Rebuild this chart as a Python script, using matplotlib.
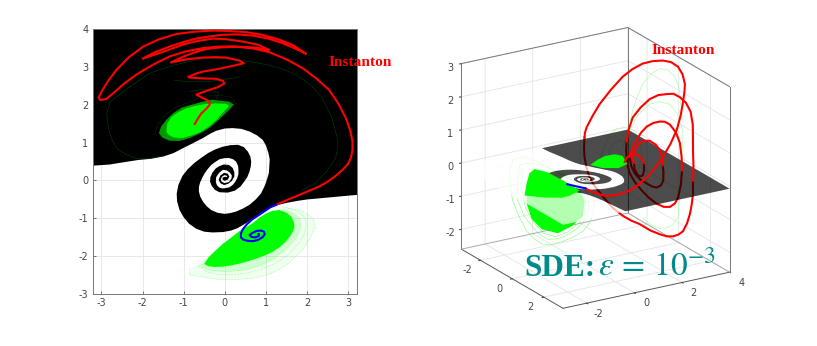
"""
plot.py: basin boundary, SDE clouds and instanton, in 2D and in 3D
"""

import matplotlib
matplotlib.use("Agg")
import matplotlib.pyplot as plt
from mpl_toolkits.mplot3d.art3d import Poly3DCollection

plt.rcParams['grid.color'] = '#e4e4e4'
plt.rcParams['grid.linewidth'] = 0.6
plt.rcParams['mathtext.fontset'] = 'stix'
plt.rcParams['axes.unicode_minus'] = False

GRAY = '#444444'
TEAL = '#008b8b'

# basin boundary, from the right edge into the centre of the spiral
edge_a = [(3.21, -.38), (2.9, -.41), (2.6, -.44), (2.3, -.47), (2.0, -.5), (1.75, -.54), (1.5, -.59), (1.24, -.66),
          (1.1, -.72), (.95, -.81), (.76, -.95), (.6, -1.07), (.45, -1.17), (.3, -1.26), (.15, -1.32), (-.05, -1.36),
          (-.3, -1.37), (-.5, -1.35), (-.7, -1.27), (-.87, -1.14), (-1.0, -.97), (-1.1, -.78), (-1.16, -.55),
          (-1.17, -.35), (-1.13, -.12), (-1.03, .12), (-.9, .3), (-.73, .47), (-.57, .6), (-.41, .72), (-.23, .82),
          (-.05, .89), (.13, .93), (.32, .94), (.46, .88), (.56, .76), (.62, .63), (.64, .5), (.63, .37), (.6, .24),
          (.55, .1), (.47, -.03), (.38, -.16), (.24, -.27), (.07, -.32), (-.13, -.31), (-.24, -.25), (-.32, -.14),
          (-.36, -.03), (-.35, .09), (-.3, .21), (-.22, .32), (-.13, .38), (-.03, .42), (.1, .41), (.19, .33),
          (.23, .22), (.23, .1), (.17, -.01), (.08, -.09), (-.02, -.12), (-.11, -.07), (-.15, .02), (-.11, .13),
          (-.02, .2), (.07, .18), (.11, .1), (.07, .02), (-.01, -.01), (-.06, .03), (-.05, .08), (0, .095)]
# basin boundary, from the left edge into the centre of the spiral
edge_b = [(-3.21, .39), (-2.8, .42), (-2.4, .49), (-2.1, .54), (-1.8, .57), (-1.5, .63), (-1.25, .72), (-1.02, .85),
          (-.78, .98), (-.53, 1.12), (-.36, 1.23), (-.21, 1.31), (0, 1.37), (.19, 1.38), (.4, 1.36), (.6, 1.29),
          (.78, 1.19), (.92, 1.07), (1.0, .92), (1.06, .72), (1.09, .55), (1.08, .37), (1.07, .2), (1.03, .05),
          (.97, -.14), (.88, -.34), (.75, -.5), (.6, -.64), (.44, -.74), (.27, -.82), (.13, -.86), (-.01, -.88),
          (-.18, -.85), (-.33, -.78), (-.44, -.68), (-.53, -.56), (-.6, -.42), (-.63, -.29), (-.63, -.17), (-.6, -.05),
          (-.55, .07), (-.49, .19), (-.41, .31), (-.33, .41), (-.23, .49), (-.13, .56), (0, .59), (.11, .59), (.2, .56),
          (.27, .5), (.32, .39), (.33, .28), (.33, .17), (.3, .06), (.25, -.04), (.19, -.12), (.11, -.18), (.03, -.2),
          (-.06, -.21), (-.13, -.19), (-.19, -.13), (-.22, -.04), (-.21, .09), (-.14, .2), (-.05, .28), (.04, .27),
          (.12, .21), (.17, .13), (.16, .05), (.1, -.04), (-.01, -.07), (-.08, -.03), (-.1, .03), (-.07, .1),
          (-.01, .14), (.04, .13), (.06, .09)]

# instanton in the (x, y) plane
red_path = [(-.73, 1.49), (-.66, 1.62), (-.57, 1.77), (-.46, 1.88), (-.37, 1.99), (-.37, 2.07), (-.45, 2.13),
            (-.57, 2.19), (-.69, 2.26), (-.58, 2.31), (-.37, 2.39), (-.17, 2.46), (-.02, 2.55), (-.04, 2.62),
            (-.21, 2.68), (-.55, 2.69), (-.85, 2.71), (-.89, 2.73), (-.72, 2.81), (-.53, 2.87), (-.2, 2.93), (.11, 3.0),
            (.35, 3.06), (.46, 3.09), (.35, 3.16), (.03, 3.24), (-.25, 3.25), (-.53, 3.24), (-.95, 3.19), (-1.31, 3.11),
            (-1.0, 3.27), (-.61, 3.42), (-.3, 3.49), (.1, 3.52), (.45, 3.52), (.76, 3.5), (1.08, 3.44), (.8, 3.58),
            (.44, 3.66), (.05, 3.72), (-.29, 3.74), (-.65, 3.68), (-1.02, 3.58), (-1.5, 3.39), (-2.0, 3.21),
            (-1.7, 3.38), (-1.34, 3.53), (-1.0, 3.65), (-.69, 3.74), (-.35, 3.8), (-.05, 3.84), (.3, 3.85), (.68, 3.82),
            (1.05, 3.74), (1.4, 3.62), (1.7, 3.48), (1.97, 3.34), (1.65, 3.57), (1.3, 3.72), (.9, 3.84), (.52, 3.91),
            (.1, 3.94), (-.29, 3.95), (-.75, 3.92), (-1.18, 3.86), (-1.6, 3.72), (-1.98, 3.53), (-2.33, 3.25),
            (-2.63, 2.92), (-2.85, 2.6), (-3.0, 2.33), (-3.07, 2.18), (-3.02, 2.12), (-2.88, 2.15), (-2.71, 2.3),
            (-2.45, 2.55), (-2.15, 2.79), (-1.75, 3.05), (-1.34, 3.27), (-.95, 3.4), (-.53, 3.49), (-.13, 3.53),
            (.27, 3.53), (.68, 3.48), (1.08, 3.38), (1.5, 3.19), (1.89, 2.96), (2.22, 2.69), (2.53, 2.39), (2.76, 2.02),
            (2.94, 1.64), (3.05, 1.3), (3.1, 1.03), (3.1, .8), (3.06, .59), (2.98, .42), (2.85, .27), (2.69, .12),
            (2.5, -.03), (2.29, -.16), (2.05, -.27), (1.81, -.38), (1.5, -.52), (1.24, -.645)]
blue_path = [(1.24, -.645), (1.1, -.71), (.95, -.82), (.8, -.93), (.66, -1.03), (.54, -1.15), (.44, -1.28), (.39, -1.4),
             (.39, -1.5), (.45, -1.56), (.55, -1.59), (.68, -1.6), (.8, -1.57), (.91, -1.5), (.97, -1.42), (.95, -1.35),
             (.88, -1.32), (.77, -1.33), (.67, -1.38), (.6, -1.44), (.65, -1.49), (.74, -1.5), (.83, -1.46), (.82, -1.41)]

# SDE clouds in the (x, y) plane
low_core = [(-.5, -2.2), (-.4, -2.03), (-.22, -1.84), (-.05, -1.67), (.16, -1.5), (.36, -1.33), (.52, -1.23), (.68, -1.12),
            (.84, -.98), (1.0, -.87), (1.16, -.8), (1.32, -.78), (1.48, -.84), (1.61, -.95), (1.68, -1.1), (1.69, -1.26),
            (1.6, -1.45), (1.48, -1.61), (1.33, -1.76), (1.16, -1.88), (.96, -1.98), (.76, -2.06), (.56, -2.13),
            (.36, -2.19), (.15, -2.24), (-.05, -2.27), (-.25, -2.28), (-.4, -2.26)]
low_ring_a = [(-.65, -2.26), (-.3, -2.38), (.1, -2.4), (.5, -2.36), (.85, -2.25), (1.2, -2.06), (1.5, -1.8), (1.75, -1.5),
              (1.85, -1.2), (1.82, -1.0), (1.65, -.85), (1.4, -.75)]
low_ring_b = [(-.57, -2.32), (-.4, -2.42), (-.21, -2.47), (.15, -2.48), (.52, -2.45), (.9, -2.33), (1.24, -2.18), (1.53, -1.96),
              (1.77, -1.7), (1.93, -1.42), (1.98, -1.17), (1.95, -1.0), (1.85, -.87), (1.68, -.77), (1.48, -.72)]
low_ring_c = [(-.85, -2.34), (-.85, -2.49), (-.55, -2.54), (-.21, -2.6), (.25, -2.61), (.68, -2.58), (1.02, -2.49),
              (1.32, -2.36), (1.62, -2.12), (1.89, -1.83), (2.07, -1.52), (2.19, -1.22), (2.17, -1.06), (2.09, -.95),
              (1.95, -.85), (1.81, -.78), (1.4, -.70)]
up_fringe = [(-1.6, 1.25), (-1.55, 1.42), (-1.42, 1.6), (-1.26, 1.77), (-1.05, 1.92), (-.8, 2.0), (-.53, 2.08), (-.3, 2.13),
             (-.1, 2.1), (.1, 2.08), (.22, 2.0), (.12, 1.88), (.0, 1.75), (-.18, 1.57), (-.38, 1.38), (-.6, 1.24),
             (-.85, 1.12), (-1.1, 1.04), (-1.35, 1.05), (-1.52, 1.13)]
up_core = [(-1.42, 1.28), (-1.4, 1.5), (-1.3, 1.67), (-1.13, 1.8), (-.94, 1.9), (-.7, 1.97), (-.45, 2.02), (-.2, 2.03),
           (.03, 2.02), (.1, 1.96), (-.04, 1.8), (-.18, 1.62), (-.38, 1.43), (-.57, 1.29), (-.8, 1.19), (-1.02, 1.12),
           (-1.24, 1.13), (-1.36, 1.2)]
up_ring = [(-1.7, 1.2), (-1.65, 1.45), (-1.45, 1.72), (-1.2, 1.92), (-.9, 2.05), (-.55, 2.2), (-.2, 2.25), (.15, 2.2), (.28, 2.02)]
faint_lines = [
    [(-2.79, 2.08), (-2.87, 1.75), (-2.83, 1.38), (-2.75, 1.1), (-2.63, .85), (-2.4, .68), (-2.15, .59), (-1.85, .58), (-1.5, .65)],
    [(-2.79, 2.08), (-2.4, 2.4), (-1.82, 2.83), (-1.2, 3.05), (-.53, 3.22), (.2, 3.2), (.84, 3.09), (1.3, 2.98), (1.73, 2.79),
     (2.1, 2.5), (2.37, 2.17), (2.6, 1.65), (2.73, 1.12), (2.74, .85), (2.69, .59), (2.48, .25), (2.21, -.07), (1.89, -.25)],
    [(-1.25, 2.65), (-.9, 2.6), (-.3, 2.62), (.35, 2.72)],
    [(-.85, 2.35), (-.5, 2.4), (-.15, 2.32), (-.2, 2.15)],
]

# instanton in 3D, x is taken as 1.5 along it; pieces in front of the plane and behind it
front_pieces = [
    [(-.92, .221), (-.62, .06), (-.32, -.057), (-.05, -.14), (.22, -.175), (.58, -.18), (.94, -.134), (1.3, -.02), (1.66, .152),
     (2.0, .38), (2.33, .658), (2.65, 1.0), (2.92, 1.393), (3.08, 1.79), (3.18, 2.181), (3.24, 2.47), (3.26, 2.72), (3.16, 3.03),
     (2.97, 3.288), (2.68, 3.47), (2.33, 3.572), (1.92, 3.62), (1.49, 3.613), (1.05, 3.51), (.65, 3.348), (.15, 3.03),
     (-.32, 2.673), (-.62, 2.36), (-.87, 2.055), (-.94, 1.9), (-.96, 1.761)],
    [(3.6, -.247), (3.62, .2), (3.6, .673), (3.6, 1.041), (3.59, 1.45), (3.5, 1.85), (3.3, 2.15), (3.05, 2.354), (2.78, 2.5),
     (2.5, 2.533), (2.15, 2.56), (1.78, 2.494), (1.4, 2.3), (1.07, 2.054), (.9, 1.72), (.81, 1.358)],
    [(3.14, .132), (3.12, .55), (3.05, .973), (2.88, 1.32), (2.63, 1.593), (2.42, 1.71), (2.21, 1.752), (1.93, 1.75), (1.66, 1.685),
     (1.42, 1.54), (1.24, 1.353), (1.05, 1.12), (.94, .878)],
    [(2.33, .413), (2.3, .66), (2.21, .893), (2.03, 1.08), (1.78, 1.236), (1.56, 1.27), (1.36, 1.24), (1.19, 1.1), (1.07, .919),
     (1.07, .78), (1.11, .667)],
    [(1.53, .601), (1.42, .77), (1.28, .886), (1.1, .94), (.94, .939), (.82, .87), (.73, .758)],
]
back_pieces = [
    [(-.96, 1.761), (-.98, 1.46), (-.96, 1.178), (-.88, .85), (-.75, .532), (-.55, .25), (-.32, .004), (-.05, -.28), (.22, -.543),
     (.65, -.85), (1.0, -1.05), (1.36, -1.213), (1.8, -1.47), (2.21, -1.653), (2.5, -1.76), (2.76, -1.802), (3.0, -1.78),
     (3.18, -1.714), (3.35, -1.5), (3.47, -1.24), (3.55, -.95), (3.6, -.646), (3.6, -.247)],
    [(.81, 1.358), (.79, 1.12), (.81, .898), (.85, .63), (.94, .387), (1.17, .07), (1.45, -.214), (1.75, -.48), (2.08, -.713),
     (2.37, -.85), (2.63, -.892), (2.84, -.82), (2.97, -.669), (3.09, -.3), (3.14, .132)],
    [(.94, .878), (1.0, .6), (1.15, .354), (1.38, .13), (1.66, -.032), (1.88, -.16), (2.08, -.222), (2.26, -.18), (2.35, -.047),
     (2.36, .18), (2.33, .413)],
    [(1.11, .667), (1.16, .45), (1.28, .273), (1.39, .22), (1.49, .239), (1.55, .4), (1.53, .601)],
]
blue_piece = [(-1.68, .464), (-1.3, .34), (-.92, .221)]
thin_loops = [
    [(.94, 1.952), (1.2, 2.55), (1.49, 3.0), (1.85, 3.25), (2.21, 3.347), (2.55, 3.25), (2.84, 3.001), (3.0, 2.7), (3.05, 2.354), (3.18, 1.66)],
    [(1.49, -1.049), (1.9, -1.35), (2.33, -1.52), (2.7, -1.47), (2.97, -1.282), (3.05, -.56), (3.14, .286), (3.18, 1.292), (3.0, 1.8),
     (2.63, 2.206), (2.2, 2.35), (1.78, 2.34), (1.3, 2.1), (.94, 1.706), (.6, 1.146)],
    [(-.32, .986), (-.1, 1.4), (.1, 1.686), (.4, 1.82), (.73, 1.801), (1.1, 1.65), (1.36, 1.333), (1.45, .95), (1.36, .566), (1.2, .25),
     (.94, .019), (.7, .1), (.52, .393)],
    [(.0, 1.0), (.2, 1.35), (.55, 1.45), (.9, 1.3), (1.05, .9), (.95, .5), (.7, .35)],
]

# SDE clouds in 3D, x is taken as .6 and -1
cloud_all = [(-2.46, .79), (-1.91, .611), (-1.27, .266), (-.56, -.154), (-.35, -.495), (-.43, -.941), (-.89, -1.175),
             (-1.49, -1.296), (-2.16, -1.067), (-2.58, -.693), (-2.79, -.2), (-2.79, .414), (-2.67, .7)]
cloud_top = [(-2.46, .79), (-1.91, .611), (-1.27, .266), (-.56, -.154), (-.98, -.242), (-1.32, -.249), (-2.03, -.136),
             (-2.88, .059), (-2.79, .414), (-2.67, .7)]
cloud_rings = [
    [(-3.38, 1.213), (-3.47, 1.03), (-3.51, .834), (-3.47, .4), (-3.38, -.014), (-3.12, -.52), (-2.79, -1.028), (-2.45, -1.33),
     (-2.12, -1.533), (-1.7, -1.6), (-1.27, -1.575), (-.85, -1.52), (-.43, -1.401), (-.15, -1.2), (0, -.947), (.04, -.63),
     (0, -.333), (-.3, -.1), (-.68, .081), (-1.3, .43), (-1.95, .771), (-2.4, 1.03), (-2.79, 1.18), (-3.1, 1.25), (-3.38, 1.213)],
    [(-3.09, 1.013), (-3.18, .5), (-3.17, -.048), (-2.9, -.55), (-2.54, -.946), (-2.24, -1.22), (-1.91, -1.414), (-1.55, -1.46),
     (-1.19, -1.435), (-.8, -1.33), (-.43, -1.156), (-.25, -.93), (-.18, -.674), (-.2, -.42), (-.3, -.194), (-.8, .17),
     (-1.4, .531), (-2.05, .83), (-2.67, 1.007), (-3.09, 1.013)],
    [(-2.95, .9), (-3.0, .3), (-2.85, -.3), (-2.5, -.8), (-2.1, -1.2), (-1.6, -1.38), (-1.1, -1.33), (-.6, -1.13), (-.35, -.8), (-.3, -.45)],
]
cloud_up = [(.95, -.059), (1.25, .05), (1.58, .117), (2.0, .1), (2.3, .003), (2.51, -.275), (2.13, -.338), (1.46, -.231)]

x_ticks_2d = [-3, -2, -1, 0, 1, 2, 3]
y_ticks_2d = [-3, -2, -1, 0, 1, 2, 3, 4]
x_ticks_3d = [-2, 0, 2]
y_ticks_3d = [-2, 0, 2, 4]
z_ticks_3d = [-2, -1, 0, 1, 2, 3]

X_LIM = (-3.21, 3.21)
Y_LIM = (-3, 4)
Z_LIM = (-2.6, 3)
PLANE_Z = -0.08

# black part and white part of the plane, each one polygon
boundary = edge_a + edge_b[::-1]
black_part = [(X_LIM[0], Y_LIM[1]), (X_LIM[1], Y_LIM[1])] + boundary
white_part = [(X_LIM[0], Y_LIM[0]), (X_LIM[1], Y_LIM[0])] + boundary


def split(points):
    """Return the two coordinate lists of a list of pairs"""
    return [p[0] for p in points], [p[1] for p in points]


def wall(points, x):
    """Return a polygon at constant x from (y, z) pairs"""
    return [(x, y, z) for y, z in points]


def add_poly(axes, verts, color, zorder, alpha=None):
    """Add one filled polygon to the 3D axes"""
    poly = Poly3DCollection([verts], facecolor=color, edgecolor='none', alpha=alpha, zorder=zorder)
    axes.add_collection3d(poly, autolim=False)


fig = plt.figure(figsize=(8.17, 3.46), dpi=100)

# left panel
ax = fig.add_axes([92.7 / 817, (346 - 294.3) / 346, 264.3 / 817, 265.6 / 346])
ax.set_axisbelow(True)
ax.grid(True)
ax.fill(*split(black_part), color='black', lw=0, zorder=1)
ax.fill(*split(low_ring_c), color='#00ff00', alpha=.06, lw=0, zorder=2)
ax.fill(*split(low_ring_a), color='#00ff00', alpha=.14, lw=0, zorder=2)
for ring in (low_ring_a, low_ring_b, low_ring_c):
    ax.plot(*split(ring), color='#55ff55', lw=.4, ls=':', zorder=2)
ax.fill(*split(up_fringe), color='#009a00', lw=0, zorder=2)
ax.plot(*split(up_ring), color='#007000', lw=.4, ls=':', zorder=2)
ax.fill(*split(low_core), color='#00ff00', lw=0, zorder=2)
ax.fill(*split(up_core), color='#00ff00', lw=0, zorder=2)
for line in faint_lines:
    ax.plot(*split(line), color='#004d00', lw=.35, zorder=2)
ax.plot(*split(red_path), color='red', lw=1.5, zorder=3, solid_joinstyle='round')
ax.plot(*split(blue_path), color='#0000ff', lw=1.5, zorder=3, solid_joinstyle='round')
ax.set_xlim(X_LIM)
ax.set_ylim(Y_LIM)
ax.set_xticks(x_ticks_2d)
ax.set_yticks(y_ticks_2d)
ax.tick_params(direction='in', length=2.5, width=.5, labelsize=7, colors=GRAY, pad=3)
for spine in ax.spines.values():
    spine.set_color('#777777')
    spine.set_linewidth(.7)

# right panel
side = 330.0
ax3 = fig.add_axes([(591 - side / 2) / 817, (346 - 167.9 - .5135 * side) / 346, side / 817, side / 346],
                   projection='3d', proj_type='ortho', computed_zorder=False)
ax3.view_init(elev=20.8, azim=-31.4)
ax3.set_box_aspect((1, 1, 1.017))
ax3.patch.set_alpha(0)

for axis in (ax3.xaxis, ax3.yaxis, ax3.zaxis):
    axis.set_pane_color((1, 1, 1, 1))
    axis.pane.set_edgecolor('white')
    axis.line.set_color('#555555')
    axis.line.set_linewidth(.7)
    axis._axinfo['tick']['inward_factor'] = .12
    axis._axinfo['tick']['outward_factor'] = 0
ax3.zaxis.set_ticks_position('lower')

# box edges
x0, x1 = X_LIM
y0, y1 = Y_LIM
z0, z1 = Z_LIM
for xs, ys, zs, col in [([x0, x0], [y0, y0], [z0, z1], '#777777'),
                        ([x0, x0, x1], [y0, y1, y1], [z1, z1, z1], '#777777'),
                        ([x0, x0], [y1, y1], [z0, z1], '#777777'),
                        ([x1, x1], [y1, y1], [z0, z1], '#777777'),
                        ([x0, x0, x1], [y0, y1, y1], [z0, z0, z0], '#aaaaaa')]:
    ax3.plot(xs, ys, zs, color=col, lw=.7, zorder=1)

for ring in cloud_rings:
    ax3.plot([.6] * len(ring), *split(ring), color='#77ff77', lw=.4, zorder=2)
for loop in thin_loops:
    ax3.plot([1.5] * len(loop), *split(loop), color='#99ff99', lw=.4, zorder=2)
add_poly(ax3, wall(cloud_all, .6), '#00ff00', 3)
for piece in back_pieces:
    ax3.plot([1.5] * len(piece), *split(piece), color='red', lw=1.5, zorder=4)

add_poly(ax3, [(x, y, PLANE_Z) for x, y in white_part], 'white', 5, alpha=.7)
add_poly(ax3, [(x, y, PLANE_Z) for x, y in black_part], 'black', 5, alpha=.7)

add_poly(ax3, wall(cloud_top, .6), '#00ff00', 6)
add_poly(ax3, wall(cloud_up, -1), '#00ff00', 6)
for piece in front_pieces:
    ax3.plot([1.5] * len(piece), *split(piece), color='red', lw=1.5, zorder=7)
ax3.plot([1.5] * len(blue_piece), *split(blue_piece), color='#0000ff', lw=1.5, zorder=7)

ax3.set_xlim(X_LIM, view_margin=0)
ax3.set_ylim(Y_LIM, view_margin=0)
ax3.set_zlim(Z_LIM, view_margin=0)
ax3.set_xticks(x_ticks_3d)
ax3.set_yticks(y_ticks_3d)
ax3.set_zticks(z_ticks_3d)
ax3.tick_params(labelsize=7, colors=GRAY)
ax3.zaxis.set_tick_params(pad=-3)

# floor tick labels, set by hand because the automatic ones sit too far along the edge
ax3.xaxis.set_major_formatter(plt.NullFormatter())
ax3.yaxis.set_major_formatter(plt.NullFormatter())
for axis in (ax3.xaxis, ax3.yaxis):
    for label in axis.get_ticklabels():
        label.set_visible(False)
for axis in (ax3.xaxis, ax3.yaxis, ax3.zaxis, ax.xaxis, ax.yaxis):
    axis.label.set_visible(False)
    axis.offsetText.set_visible(False)
for tick in x_ticks_3d:
    ax3.text(tick, y0 - .55, z0 - .22, str(tick), color=GRAY, fontsize=7, ha='center', va='center', zorder=8)
for tick in y_ticks_3d:
    ax3.text(x1 + .75, tick, z0 - .11, str(tick), color=GRAY, fontsize=7, ha='center', va='center', zorder=8)

for tx, ty in [(329, 63), (652, 50)]:
    fig.text(tx / 817, 1 - ty / 346, 'Instanton', color='red',
             family='Liberation Serif', weight='bold', fontsize=11.1, va='center')
fig.text(524 / 817, 1 - 275.5 / 346, 'SDE:', color=TEAL, family='Liberation Serif', weight='bold',
         fontsize=22.5, va='baseline')
fig.text(598 / 817, 1 - 275.5 / 346, r'$\varepsilon\,=\,10^{-3}$', color=TEAL, fontsize=24, va='baseline')

fig.savefig('out.png', dpi=100)
